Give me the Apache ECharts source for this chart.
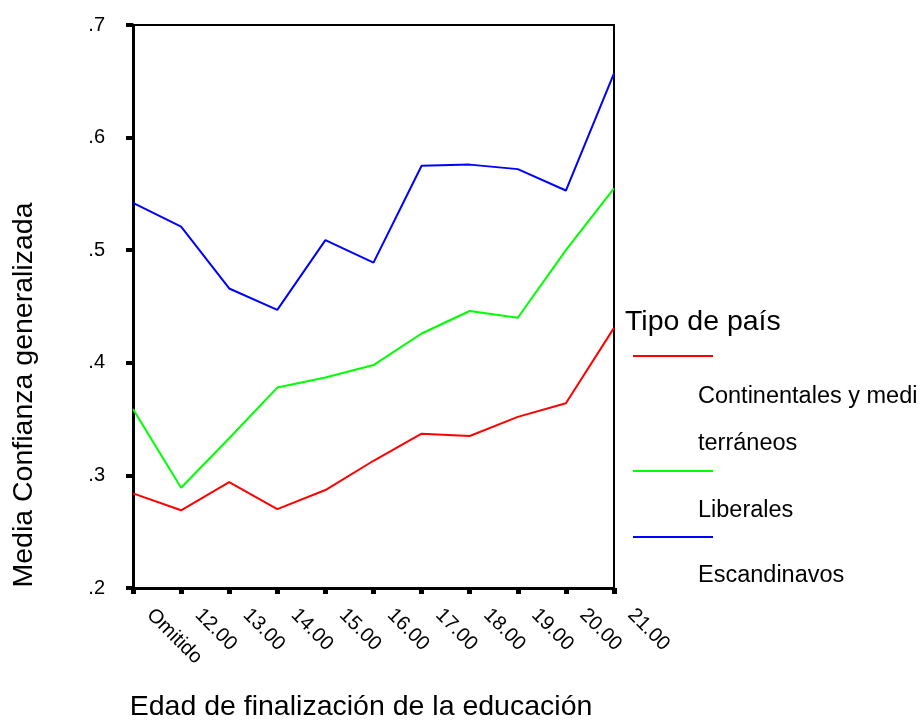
<!DOCTYPE html>
<html>
<head>
<meta charset="utf-8">
<script src="https://cdn.jsdelivr.net/npm/echarts@6/dist/echarts.min.js"></script>
<style>
html,body{margin:0;padding:0;background:#fff;}
#chart{width:923px;height:727px;}
</style>
</head>
<body>
<div id="chart"></div>
<script>
var categories = ['Omitido','12.00','13.00','14.00','15.00','16.00','17.00','18.00','19.00','20.00','21.00'];
var continentales = [0.284,0.269,0.294,0.270,0.287,0.313,0.337,0.335,0.352,0.364,0.431];
var liberales = [0.359,0.289,0.333,0.378,0.387,0.398,0.426,0.446,0.440,0.500,0.555];
var escandinavos = [0.542,0.521,0.466,0.447,0.509,0.489,0.575,0.576,0.572,0.553,0.657];
var seriesNames = ['Continentales y mediterráneos','Liberales','Escandinavos'];
var yTicks = [0.2,0.3,0.4,0.5,0.6,0.7];
var FONT = '"Liberation Sans", Arial, sans-serif';

var chart = echarts.init(document.getElementById('chart'), null, {renderer:'canvas'});
var colors = ['#ff0000','#00ff00','#0000ff'];
var values = [continentales, liberales, escandinavos];

var option = {
  animation:false,
  backgroundColor:'#ffffff',
  grid:{left:133,right:309,top:25,bottom:139,show:true,borderColor:'#000',borderWidth:2,backgroundColor:'transparent'},
  xAxis:{
    type:'category',data:categories,boundaryGap:false,
    axisLine:{lineStyle:{color:'#000',width:3}},
    axisTick:{show:true,length:6,inside:false,lineStyle:{color:'#000',width:5}},
    axisLabel:{rotate:-45,margin:7,padding:[0,0,0,24],color:'#000',fontSize:20,fontFamily:FONT,interval:0},
    splitLine:{show:false}
  },
  yAxis:{
    type:'value',min:yTicks[0],max:yTicks[yTicks.length-1],interval:0.1,
    axisLine:{show:true,lineStyle:{color:'#000',width:3}},
    axisTick:{show:true,length:7,inside:false,lineStyle:{color:'#000',width:4}},
    axisLabel:{margin:28,color:'#000',fontSize:20,fontFamily:FONT,
      formatter:function(v){return v.toFixed(1).replace(/^0/,'');}},
    splitLine:{show:false}
  },
  series: values.map(function(d,i){
    return {name:seriesNames[i],type:'line',data:d,symbol:'none',
      lineStyle:{color:colors[i],width:2},itemStyle:{color:colors[i]}};
  }),
  graphic:[
    {type:'text',x:361,y:707,style:{text:'Edad de finalización de la educación',font:'28.5px '+FONT,fill:'#000',textAlign:'center',textVerticalAlign:'middle'}},
    {type:'text',x:24,y:395,rotation:Math.PI/2,style:{text:'Media Confianza generalizada',font:'28.5px '+FONT,fill:'#000',textAlign:'center',textVerticalAlign:'middle'}},
    {type:'text',x:625,y:322,style:{text:'Tipo de país',font:'28.5px '+FONT,fill:'#000',textAlign:'left',textVerticalAlign:'middle'}},
    {type:'line',shape:{x1:633,y1:356,x2:713,y2:356},style:{stroke:colors[0],lineWidth:2}},
    {type:'text',x:698,y:397,style:{text:'Continentales y medi',font:'23.5px '+FONT,fill:'#000',textAlign:'left',textVerticalAlign:'middle'}},
    {type:'text',x:698,y:444,style:{text:'terráneos',font:'23.5px '+FONT,fill:'#000',textAlign:'left',textVerticalAlign:'middle'}},
    {type:'line',shape:{x1:633,y1:471,x2:713,y2:471},style:{stroke:colors[1],lineWidth:2}},
    {type:'text',x:698,y:511,style:{text:'Liberales',font:'23.5px '+FONT,fill:'#000',textAlign:'left',textVerticalAlign:'middle'}},
    {type:'line',shape:{x1:633,y1:537,x2:713,y2:537},style:{stroke:colors[2],lineWidth:2}},
    {type:'text',x:698,y:576,style:{text:'Escandinavos',font:'23.5px '+FONT,fill:'#000',textAlign:'left',textVerticalAlign:'middle'}}
  ]
};
chart.setOption(option);
</script>
</body>
</html>
